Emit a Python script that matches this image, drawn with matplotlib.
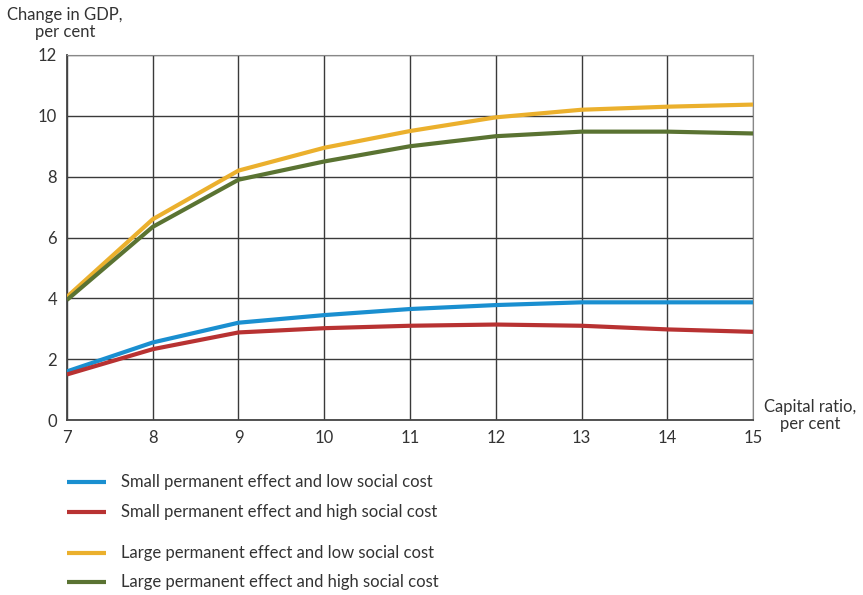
import matplotlib
matplotlib.use('Agg')
import matplotlib.pyplot as plt
from matplotlib.lines import Line2D

plt.rcParams['font.family'] = ['Lato', 'DejaVu Sans']

capital_ratio = [7, 8, 9, 10, 11, 12, 13, 14, 15]
small_low = [1.6, 2.55, 3.2, 3.45, 3.65, 3.78, 3.87, 3.87, 3.87]
small_high = [1.5, 2.33, 2.88, 3.02, 3.1, 3.14, 3.1, 2.98, 2.9]
large_low = [4.05, 6.6, 8.2, 8.95, 9.5, 9.95, 10.2, 10.3, 10.37]
large_high = [3.95, 6.35, 7.9, 8.5, 9.0, 9.33, 9.48, 9.48, 9.42]

labels = ['Small permanent effect and low social cost',
          'Small permanent effect and high social cost',
          'Large permanent effect and low social cost',
          'Large permanent effect and high social cost']
colors = ['#1a8fd0', '#b83232', '#ebb02d', '#5a7332']
series = [small_low, small_high, large_low, large_high]
text_color = '#333333'
fs = 12

fig = plt.figure(figsize=(8.63, 5.95), dpi=100)
ax = fig.add_axes([0.0776, 0.294, 0.795, 0.6136])

for vals, c in zip(series, colors):
    ax.plot(capital_ratio, vals, color=c, lw=3, solid_capstyle='butt', zorder=3)

ax.set_xlim(7, 15)
ax.set_ylim(0, 12)
ax.set_xticks(capital_ratio)
ax.set_yticks(range(0, 13, 2))
ax.grid(True, color='#3a3a3a', lw=1)
ax.set_axisbelow(True)
ax.tick_params(length=0, labelsize=fs, colors=text_color, pad=7)
for side in ['top', 'right']:
    ax.spines[side].set_color('#888888')
for side in ['left', 'bottom']:
    ax.spines[side].set_color('#444444')
    ax.spines[side].set_linewidth(1.3)

fig.text(0.075, 0.988, 'Change in GDP,\nper cent', ha='center', va='top',
         fontsize=fs, color=text_color, linespacing=1.1)
fig.text(810 / 863, 1 - 399 / 595, 'Capital ratio,\nper cent', ha='center', va='top',
         fontsize=fs, color=text_color, multialignment='center', linespacing=1.1)

# legend drawn by hand because of the uneven gap between the two pairs
rows_y = [482, 512, 553, 582]
for lab, c, y in zip(labels, colors, rows_y):
    fy = 1 - y / 595
    fig.add_artist(Line2D([67 / 863, 106 / 863], [fy, fy], color=c, lw=3,
                          solid_capstyle='butt'))
    fig.text(121 / 863, fy, lab, ha='left', va='center', fontsize=fs,
             color=text_color)

fig.savefig('out.png', dpi=100)
